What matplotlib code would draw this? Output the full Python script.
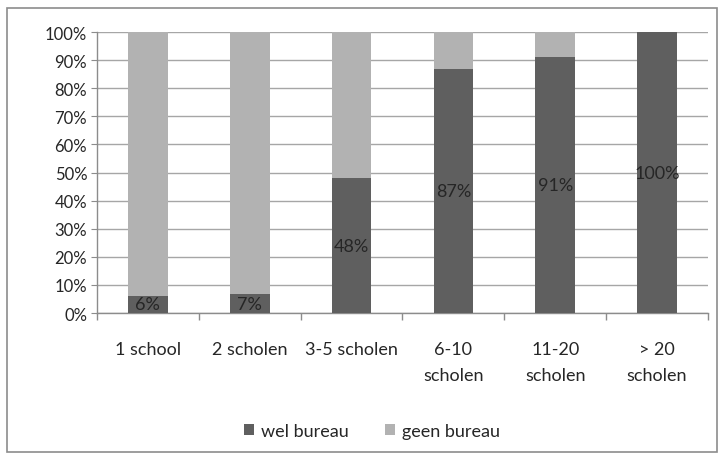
import matplotlib
matplotlib.use("Agg")
import matplotlib.pyplot as plt
from matplotlib.patches import Rectangle, Patch
import numpy as np

# ---------------------------------------------------------------------------
# Data
# ---------------------------------------------------------------------------
CATEGORIES = ["1 school", "2 scholen", "3-5 scholen", "6-10\nscholen",
              "11-20\nscholen", "> 20\nscholen"]
WEL_BUREAU = [6.2, 6.6, 48, 87, 91, 100]
GEEN_BUREAU = [100 - v for v in WEL_BUREAU]
SERIES_NAMES = ["wel bureau", "geen bureau"]

DARK = "#5f5f5f"
LIGHT = "#b2b2b2"
TEXT = "#262626"
AXIS = "#8c8c8c"
GRID = "#a6a6a6"

plt.rcParams["font.family"] = ["Lato", "DejaVu Sans"]

fig = plt.figure(figsize=(7.22, 4.56), dpi=100)
ax = fig.add_axes([0.1343, 0.3114, 0.8463, 0.6162])

x = np.arange(len(CATEGORIES))
width = 0.39
ax.bar(x, WEL_BUREAU, width, color=DARK, zorder=3, label=SERIES_NAMES[0])
ax.bar(x, GEEN_BUREAU, width, bottom=WEL_BUREAU, color=LIGHT, zorder=3,
       label=SERIES_NAMES[1])

# data labels centred in the dark segment
for xi, v in zip(x, WEL_BUREAU):
    ax.text(xi, v / 2, f"{v:.0f}%", ha="center", va="center",
            fontsize=13, color=TEXT, zorder=4)

ax.set_xlim(-0.5, len(CATEGORIES) - 0.5)
ax.set_ylim(0, 100)
ax.set_yticks(np.arange(0, 101, 10))
ax.set_yticklabels([f"{t}%" for t in range(0, 101, 10)])
ax.yaxis.grid(True, color=GRID, linewidth=1.0, zorder=0)

ax.set_xticks(x)
ax.set_xticklabels(CATEGORIES, va="top", linespacing=1.75)
ax.tick_params(axis="x", length=0, pad=20, labelsize=13, labelcolor=TEXT)
ax.tick_params(axis="y", length=4, color=AXIS, labelsize=12, labelcolor=TEXT,
               pad=3)
# category boundary ticks
ax.set_xticks(np.arange(-0.5, len(CATEGORIES)), minor=True)
ax.tick_params(axis="x", which="minor", length=5, color=AXIS, width=1)

for side in ("top", "right"):
    ax.spines[side].set_visible(False)
for side in ("left", "bottom"):
    ax.spines[side].set_color(AXIS)
    ax.spines[side].set_linewidth(1.0)

handles = [Patch(facecolor=DARK, label=SERIES_NAMES[0]),
           Patch(facecolor=LIGHT, label=SERIES_NAMES[1])]
fig.legend(handles=handles, loc="center", bbox_to_anchor=(0.515, 0.053),
           ncol=2, frameon=False, fontsize=13, handlelength=0.55,
           handleheight=0.55, handletextpad=0.4, columnspacing=2.0,
           labelcolor=TEXT)

# outer chart frame
fig.patches.append(Rectangle((0.0097, 0.006), 0.983, 0.975,
                             transform=fig.transFigure, fill=False,
                             edgecolor=AXIS, linewidth=1.2))

fig.savefig("out.png", dpi=100)
